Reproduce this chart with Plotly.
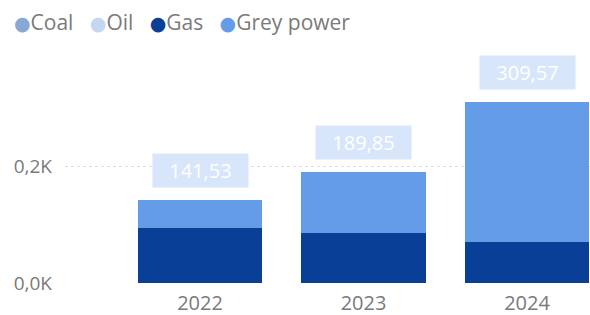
import plotly.graph_objects as go

years = ["2022", "2023", "2024"]
coal = [0, 0, 0]
oil = [0, 0, 0]
gas = [95, 85, 71]
grey_power = [46.53, 104.85, 238.57]
totals = [141.53, 189.85, 309.57]
total_labels = ["141,53", "189,85", "309,57"]
tick_vals = [0, 200]
tick_text = ["0,0K", "0,2K"]
series_names = ["Coal", "Oil", "Gas", "Grey power"]

colors = {"Coal": "#8aa8d6", "Oil": "#c3d7f3", "Gas": "#0a3f98", "Grey power": "#659ce8"}
FONT = "Open Sans"
GREY = "#7a7a7a"

fig = go.Figure()
for name, vals in zip(series_names, [coal, oil, gas, grey_power]):
    fig.add_trace(go.Bar(x=years, y=vals, name=name, marker=dict(color=colors[name], line=dict(width=0)),
                         showlegend=False, hoverinfo="skip"))

for i, (tot, lab) in enumerate(zip(totals, total_labels)):
    fig.add_annotation(x=i, y=tot, xref="x", yref="y", text=lab, showarrow=False,
                       yanchor="bottom", yshift=12,
                       bgcolor="#d7e6fb", width=83, height=21, borderpad=6,
                       font=dict(color="#ffffff", size=20, family=FONT))

# compact legend as a single text line
legend_parts = []
for name in series_names:
    legend_parts.append(
        f"<span style='color:{colors[name]};font-size:19px;font-family:DejaVu Sans'>●</span>{name}")
fig.add_annotation(xref="paper", yref="paper", x=0, y=1, xanchor="left", yanchor="middle",
                   xshift=-53, yshift=23,
                   text="&nbsp;&nbsp;&nbsp;".join(legend_parts), showarrow=False,
                   font=dict(size=21, color=GREY, family=FONT))

fig.update_layout(
    width=590, height=315,
    margin=dict(l=65, r=0, t=45, b=32, autoexpand=False),
    paper_bgcolor="white", plot_bgcolor="white",
    barmode="stack", bargap=0.24, showlegend=False,
    font=dict(family=FONT, size=20, color=GREY),
    xaxis=dict(type="category", range=[-0.826, 2.385], showgrid=False, showline=False,
               ticks="", ticklabelstandoff=6, automargin=False,
               tickfont=dict(size=20, color=GREY)),
    yaxis=dict(range=[0, 408], tickvals=tick_vals, ticktext=tick_text, showgrid=True,
               gridcolor="#e0e0e0", griddash="dot", zeroline=False, showline=False,
               ticklabelstandoff=12, automargin=False, tickfont=dict(size=19, color=GREY)),
)
fig.write_html("out.html", post_script="document.body.style.margin='0';",
               config={"displayModeBar": False})
